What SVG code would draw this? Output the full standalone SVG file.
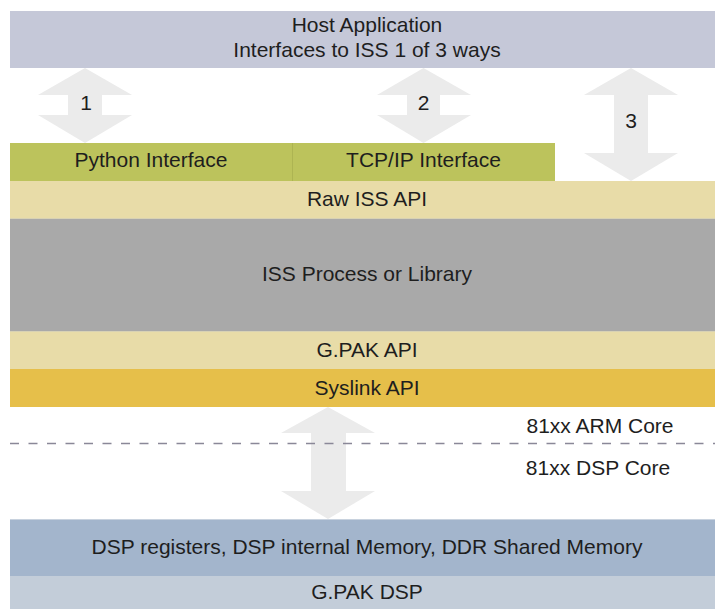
<svg xmlns="http://www.w3.org/2000/svg" width="715" height="609" viewBox="0 0 715 609">
<style>
text{font-family:"Liberation Sans",Arial,Helvetica,sans-serif;font-size:21px;fill:#1e1e1e;text-anchor:middle}
.arrow{fill:#ebebeb}
</style>
<rect width="715" height="609" fill="#ffffff"/>
<g id="host">
<rect x="10" y="11" width="710" height="57" fill="#c5c8d8"/>
<text x="367" y="32">Host Application</text>
<text x="367" y="57">Interfaces to ISS 1 of 3 ways</text>
</g>
<g id="python">
<rect x="10" y="143" width="282" height="38" fill="#bcc35c"/>
<text x="151" y="167">Python Interface</text>
</g>
<g id="tcpip">
<rect x="292" y="143" width="263" height="38" fill="#bcc35c"/>
<line x1="292.5" y1="143" x2="292.5" y2="181" stroke="#adb452" stroke-width="1"/>
<text x="423.5" y="167">TCP/IP Interface</text>
</g>
<g id="rawiss">
<rect x="10" y="181" width="710" height="37" fill="#e8dca8"/>
<text x="367" y="206">Raw ISS API</text>
</g>
<g id="issprocess">
<rect x="10" y="218" width="710" height="113" fill="#a9a9a9"/>
<line x1="10" y1="218.5" x2="715" y2="218.5" stroke="#d8d2b4" stroke-width="1"/>
<text x="367" y="281">ISS Process or Library</text>
</g>
<g id="gpakapi">
<rect x="10" y="331" width="710" height="38" fill="#e8dca8"/>
<line x1="10" y1="331.5" x2="715" y2="331.5" stroke="#d8d2b4" stroke-width="1"/>
<text x="367" y="357">G.PAK API</text>
</g>
<g id="syslink">
<rect x="10" y="369" width="710" height="38" fill="#e6bf4a"/>
<text x="367" y="395">Syslink API</text>
</g>
<g id="dspmem">
<rect x="10" y="519" width="710" height="57" fill="#a3b5cc"/>
<line x1="10" y1="519.5" x2="715" y2="519.5" stroke="#c8d2de" stroke-width="1"/>
<text x="367" y="554">DSP registers, DSP internal Memory, DDR Shared Memory</text>
</g>
<g id="gpakdsp">
<rect x="10" y="576" width="710" height="33" fill="#c3cdd9"/>
<text x="367" y="599">G.PAK DSP</text>
</g>
<g id="connectors">
<path class="arrow" d="M85,68 L132,95 L102,95 L102,115 L132,115 L85,143 L38,115 L68,115 L68,95 L38,95 Z"/>
<text x="86" y="110">1</text>
<path class="arrow" d="M423.5,68 L471,95 L440,95 L440,115 L471,115 L423.5,143 L377,115 L407,115 L407,95 L377,95 Z"/>
<text x="423.5" y="110">2</text>
<path class="arrow" d="M631,68 L678,95 L648,95 L648,153 L678,153 L631,181 L584,153 L614,153 L614,95 L584,95 Z"/>
<text x="631" y="128">3</text>
<path class="arrow" d="M328,407 L375,433 L346,433 L346,491 L375,491 L328,519 L281,491 L311,491 L311,433 L281,433 Z"/>
</g>
<g id="divider">
<line x1="10" y1="443.5" x2="715" y2="443.5" stroke="#8a8898" stroke-width="1.5" stroke-dasharray="9,9.5"/>
<text x="600" y="433">81xx ARM Core</text>
<text x="598" y="475">81xx DSP Core</text>
</g>
</svg>
